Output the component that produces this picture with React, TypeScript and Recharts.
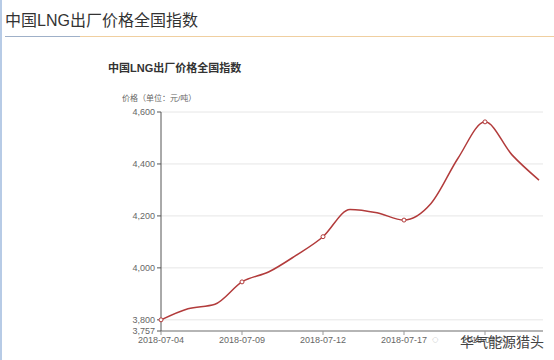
import React from 'react';
import {LineChart, Line, XAxis, YAxis, CartesianGrid} from 'recharts';

const dates = [
  '2018-07-04', '2018-07-05', '2018-07-06', '2018-07-09', '2018-07-10',
  '2018-07-11', '2018-07-12', '2018-07-13', '2018-07-16', '2018-07-17',
  '2018-07-18', '2018-07-19', '2018-07-20', '2018-07-23', '2018-07-24',
];
const prices = [3800, 3843, 3860, 3946, 3985, 4048, 4120, 4225, 4212, 4184, 4248, 4422, 4562, 4435, 4338];
const yTicks = [3757, 3800, 4000, 4200, 4400, 4600];

const data = dates.map((d, i) => ({date: d, price: prices[i]}));

const font = "'Liberation Sans', 'Noto Sans CJK SC', sans-serif";
const lineColor = '#b23b3b';

function Dot(props: any) {
  const {cx, cy, index} = props;
  if (index % 3 !== 0) return <g key={'d' + index}/>;
  return <circle key={'d' + index} cx={cx} cy={cy} r={2} fill="#fff" stroke={lineColor} strokeWidth={1}/>;
}

export default function App() {
  return (
    <div style={{position: 'fixed', left: 0, top: 0, width: 554, height: 360, background: '#fff', fontFamily: font, overflow: 'hidden'}}>
      <div style={{position: 'absolute', left: 0, top: 0, width: 2, height: 360, background: '#b7cbe6'}}/>
      <div style={{position: 'absolute', left: 5, top: 7, fontSize: 16, color: '#333', whiteSpace: 'nowrap'}}>
        中国LNG出厂价格全国指数
      </div>
      <div style={{position: 'absolute', left: 5, top: 36, width: 75, height: 1, background: '#9fb0c8'}}/>
      <div style={{position: 'absolute', left: 80, top: 36, width: 474, height: 1, background: '#f0cfa0'}}/>
      <div style={{position: 'absolute', left: 108, top: 59, fontSize: 11, fontWeight: 'bold', color: '#333', whiteSpace: 'nowrap'}}>
        中国LNG出厂价格全国指数
      </div>
      <div style={{position: 'absolute', left: 122, top: 92, fontSize: 8, color: '#666', whiteSpace: 'nowrap'}}>
        价格（单位：元/吨）
      </div>
      <div style={{position: 'absolute', left: 0, top: 0}}>
        <LineChart width={554} height={360} data={data} margin={{top: 112, right: 11, bottom: 0, left: 0}}>
          <CartesianGrid horizontal vertical={false} stroke="#e6e6e6"/>
          <XAxis
            dataKey="date"
            interval={2}
            height={29}
            padding={{left: 0, right: 4}}
            axisLine={{stroke: '#b5b5b5', strokeWidth: 2}}
            tickLine={{stroke: '#999'}}
            tickSize={4}
            tick={{fontSize: 9, fill: '#666', fontFamily: font}}
          />
          <YAxis
            type="number"
            domain={[3757, 4600]}
            ticks={yTicks}
            interval={0}
            width={161}
            axisLine={{stroke: '#555'}}
            tickLine={{stroke: '#555'}}
            tickSize={4}
            tick={{fontSize: 9, fill: '#666', fontFamily: font}}
            tickFormatter={(v: number) => v.toLocaleString('en-US')}
          />
          <Line
            type="monotone"
            dataKey="price"
            stroke={lineColor}
            strokeWidth={1.5}
            dot={Dot}
            activeDot={false}
            isAnimationActive={false}
          />
        </LineChart>
      </div>
      <div style={{position: 'absolute', left: 432, top: 333, fontSize: 11, color: '#999', whiteSpace: 'nowrap'}}>◌</div>
      <div style={{position: 'absolute', left: 460, top: 331, fontSize: 14, color: '#444', whiteSpace: 'nowrap'}}>
        华气能源猎头
      </div>
    </div>
  );
}
